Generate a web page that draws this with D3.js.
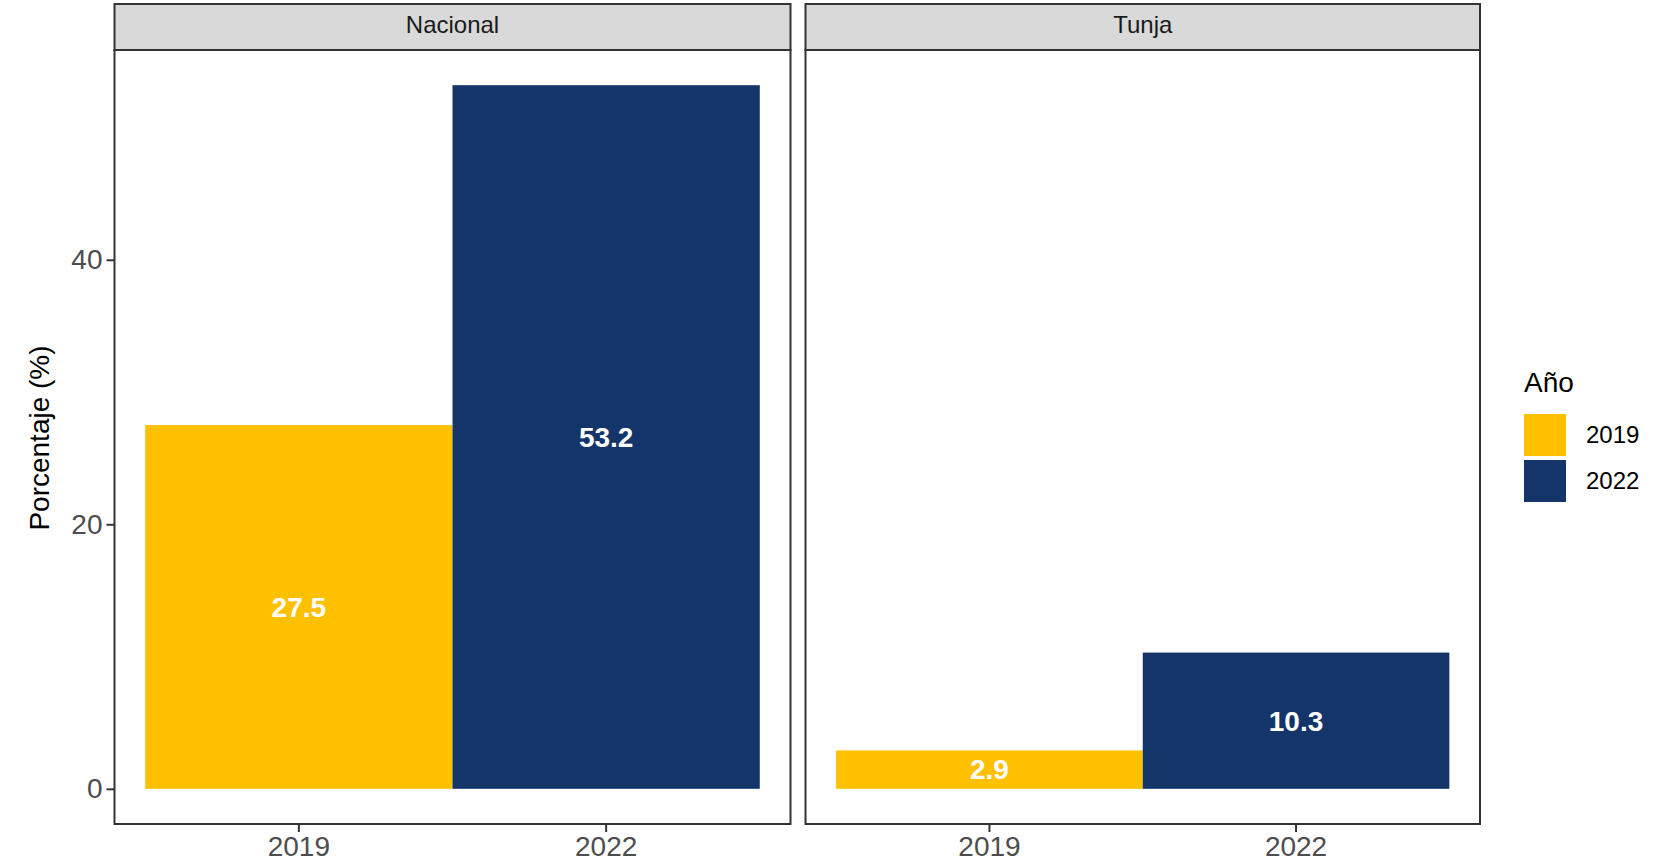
<!DOCTYPE html>
<html><head><meta charset="utf-8">
<script src="https://cdn.jsdelivr.net/npm/d3@7"></script>
<style>body{margin:0;background:#fff;} text{font-family:"Liberation Sans",Arial,sans-serif;}</style>
</head><body><svg id="c" width="1662" height="860"></svg>
<script>
const panels = ["Nacional", "Tunja"];
const years = ["2019", "2022"];
const valuesNacional = [27.5, 53.2];
const valuesTunja = [2.9, 10.3];
const yTicks = [0, 20, 40];
const colors = ["#FFC000", "#14356A"];
const legendTitle = "Año";
const yTitle = "Porcentaje (%)";

const seriesByPanel = [valuesNacional, valuesTunja];
const svg = d3.select("#c");
const panelX = [[114.5, 790.5], [805.5, 1480]];
const stripTop = 4, stripBottom = 50, plotBottom = 824;
const maxV = d3.max(seriesByPanel.flat());
const y = d3.scaleLinear().domain([-maxV*0.05, maxV*1.05]).range([plotBottom, stripBottom]);
const color = d3.scaleOrdinal().domain(years).range(colors);

panels.forEach((p, i) => {
  const [x0, x1] = panelX[i];
  const x = d3.scaleBand().domain(years).range([x0, x1]).paddingInner(0).paddingOuter(0.1);
  const g = svg.append("g");
  const data = years.map((yr, j) => ({year: yr, value: seriesByPanel[i][j]}));
  g.selectAll("rect.bar").data(data).enter().append("rect")
    .attr("x", d => x(d.year)).attr("width", x.bandwidth())
    .attr("y", d => y(d.value)).attr("height", d => y(0) - y(d.value))
    .attr("fill", d => color(d.year));
  g.selectAll("text.lab").data(data).enter().append("text")
    .attr("x", d => x(d.year) + x.bandwidth()/2)
    .attr("y", d => y(d.value/2)).attr("dy", "0.35em")
    .attr("text-anchor", "middle").attr("fill", "#fff")
    .attr("font-weight", "bold").attr("font-size", 28)
    .text(d => d.value.toFixed(1));
  g.append("rect").attr("x", x0).attr("y", stripBottom).attr("width", x1 - x0).attr("height", plotBottom - stripBottom)
    .attr("fill", "none").attr("stroke", "#333").attr("stroke-width", 2);
  g.append("rect").attr("x", x0).attr("y", stripTop).attr("width", x1 - x0).attr("height", stripBottom - stripTop)
    .attr("fill", "#d9d9d9").attr("stroke", "#333").attr("stroke-width", 2);
  g.append("text").attr("x", (x0 + x1)/2).attr("y", 33).attr("text-anchor", "middle")
    .attr("font-size", 24).attr("fill", "#1a1a1a").text(p);
  const xa = g.append("g").attr("transform", `translate(0,${plotBottom})`)
    .call(d3.axisBottom(x).tickSize(8).tickPadding(4));
  xa.select(".domain").remove();
  xa.selectAll("line").attr("stroke", "#333").attr("stroke-width", 2);
  xa.selectAll("text").attr("font-size", 28).attr("fill", "#4d4d4d")
    .style("font-family", '"Liberation Sans",Arial,sans-serif');
  if (i === 0) {
    const ya = g.append("g").attr("transform", `translate(${x0},0)`)
      .call(d3.axisLeft(y).tickValues(yTicks).tickSize(8).tickPadding(4));
    ya.select(".domain").remove();
    ya.selectAll("line").attr("stroke", "#333").attr("stroke-width", 2);
    ya.selectAll("text").attr("font-size", 28).attr("fill", "#4d4d4d")
      .style("font-family", '"Liberation Sans",Arial,sans-serif');
  }
});

svg.append("text").attr("transform", `translate(49,438) rotate(-90)`)
  .attr("text-anchor", "middle").attr("font-size", 28).attr("fill", "#000").text(yTitle);

const lg = svg.append("g");
lg.append("text").attr("x", 1524).attr("y", 392).attr("font-size", 28).attr("fill", "#000").text(legendTitle);
years.forEach((yr, j) => {
  const ky = 414 + j * 46;
  lg.append("rect").attr("x", 1524).attr("y", ky).attr("width", 42).attr("height", 42).attr("fill", color(yr));
  lg.append("text").attr("x", 1586).attr("y", ky + 21).attr("dy", "0.35em")
    .attr("font-size", 24).attr("fill", "#000").text(yr);
});
</script></body></html>
